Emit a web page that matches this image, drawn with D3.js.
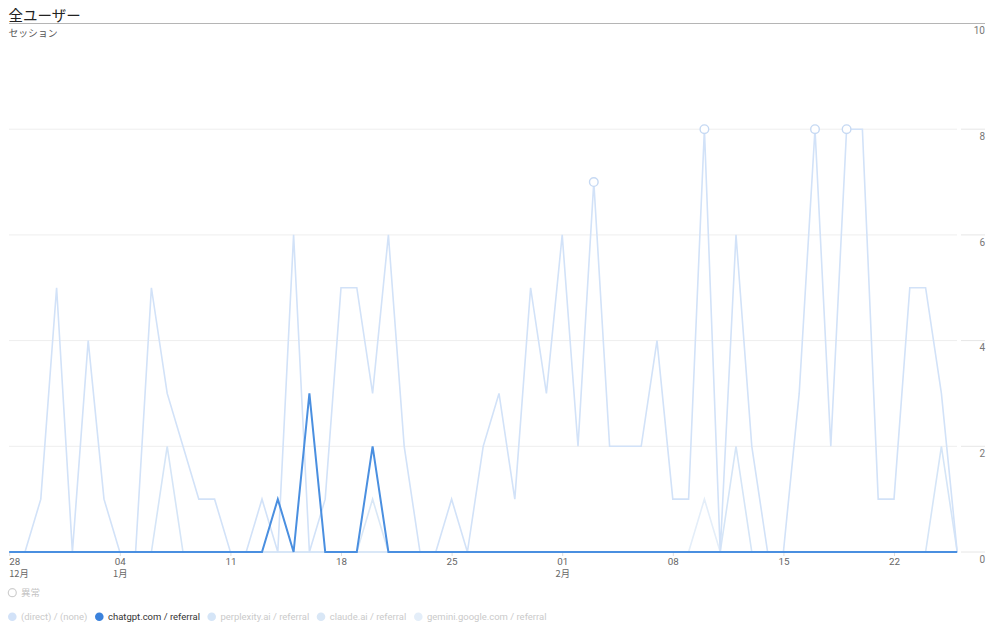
<!DOCTYPE html>
<html>
<head>
<meta charset="utf-8">
<script src="https://cdn.jsdelivr.net/npm/d3@7"></script>
<style>
  html, body { margin: 0; padding: 0; background: #fff; }
  svg { display: block; font-family: Roboto, "Noto Sans CJK JP", sans-serif; }
</style>
</head>
<body>
<svg id="chart" width="1000" height="632"></svg>
<script>
// ---------- data ----------
const startDate = new Date(2024, 11, 28);
const seriesNames = ["(direct) / (none)", "chatgpt.com / referral", "perplexity.ai / referral", "claude.ai / referral", "gemini.google.com / referral"];
const directValues = [0,0,1,5,0,4,1,0,0,5,3,2,1,1,0,0,1,0,6,0,1,5,5,3,6,2,0,0,1,0,2,3,1,5,3,6,2,7,2,2,2,4,1,1,8,0,6,2,0,0,3,8,2,8,8,1,1,5,5,3,0];
const chatgptValues = [0,0,0,0,0,0,0,0,0,0,0,0,0,0,0,0,0,1,0,3,0,0,0,2,0,0,0,0,0,0,0,0,0,0,0,0,0,0,0,0,0,0,0,0,0,0,0,0,0,0,0,0,0,0,0,0,0,0,0,0,0];
const perplexityValues = [0,0,0,0,0,0,0,0,0,0,2,0,0,0,0,0,0,0,0,0,0,0,0,0,0,0,0,0,0,0,0,0,0,0,0,0,0,0,0,0,0,0,0,0,0,0,2,0,0,0,0,0,0,0,0,0,0,0,0,2,0];
const claudeValues = [0,0,0,0,0,0,0,0,0,0,0,0,0,0,0,0,0,0,0,0,0,0,0,1,0,0,0,0,0,0,0,0,0,0,0,0,0,0,0,0,0,0,0,0,0,0,0,0,0,0,0,0,0,0,0,0,0,0,0,0,0];
const geminiValues = [0,0,0,0,0,0,0,0,0,0,0,0,0,0,0,0,0,0,0,0,0,0,0,0,0,0,0,0,0,0,0,0,0,0,0,0,0,0,0,0,0,0,0,0,1,0,0,0,0,0,0,0,0,0,0,0,0,0,0,0,0];
const anomalyIndices = [37, 44, 51, 53];
const xTickIndices = [0, 7, 14, 21, 28, 35, 42, 49, 56];
const xTickLabels = ["28", "04", "11", "18", "25", "01", "08", "15", "22"];
const monthLabels = ["12月", "1月", "", "", "", "2月", "", "", ""];
const yTicks = [0, 2, 4, 6, 8, 10];
const titleText = "全ユーザー";
const metricText = "セッション";
const anomalyLabel = "異常";

// ---------- styles / layout ----------
const colors = ["#d2e2f8", "#4a8fe0", "#d5e5f7", "#d9e7f6", "#e4eef9"];
const legendDotX = [12.3, 99.3, 211.7, 321, 418.3];

const svg = d3.select("#chart");
const dates = directValues.map((_, i) => d3.timeDay.offset(startDate, i));
const x = d3.scaleTime().domain([dates[0], dates[dates.length - 1]]).range([9.2, 957.2]);
const y = d3.scaleLinear().domain([0, 10]).range([552, 23.5]);

// title
svg.append("text").attr("x", 8.5).attr("y", 21).attr("font-size", 14.5)
  .attr("fill", "#222").attr("font-family", "'Noto Sans CJK JP', sans-serif").text(titleText);
svg.append("text").attr("x", 8.5).attr("y", 37).attr("font-size", 9.8)
  .attr("fill", "#555").attr("font-family", "'Noto Sans CJK JP', sans-serif").text(metricText);

// gridlines
const grid = svg.append("g");
yTicks.forEach(v => {
  if (v === 10) return;
  grid.append("line").attr("x1", 9).attr("x2", 957).attr("y1", y(v)).attr("y2", y(v))
    .attr("stroke", v === 0 ? "#dcdcdc" : "#eeeeee").attr("stroke-width", 1);
  grid.append("line").attr("x1", 961).attr("x2", 985).attr("y1", y(v)).attr("y2", y(v))
    .attr("stroke", "#e6e6e6").attr("stroke-width", 1);
});
svg.append("line").attr("x1", 9).attr("x2", 985).attr("y1", y(10)).attr("y2", y(10))
  .attr("stroke", "#b5b5b5").attr("stroke-width", 1);

// y labels (right)
const yAxis = d3.axisRight(y).tickValues(yTicks).tickSize(0).tickFormat(d3.format("d"));
const yg = svg.append("g").attr("transform", "translate(985,0)").call(yAxis);
yg.select(".domain").remove();
yg.selectAll("text").attr("x", 0).attr("dy", null)
  .attr("y", 10.3).attr("text-anchor", "end").attr("font-size", 10).attr("fill", "#777")
  .attr("font-family", "Roboto, sans-serif");

// x axis
const xAxis = d3.axisBottom(x).tickValues(xTickIndices.map(i => dates[i])).tickSize(4)
  .tickFormat((d, i) => xTickLabels[i]);
const xg = svg.append("g").attr("transform", `translate(0,${y(0)})`).call(xAxis);
xg.select(".domain").remove();
xg.selectAll(".tick line").attr("stroke", "#dedede");
xg.selectAll(".tick text").attr("y", 12.5).attr("dy", null).attr("font-size", 9.8)
  .attr("fill", "#666").attr("font-family", "Roboto, sans-serif")
  .attr("text-anchor", (d, i) => i === 0 ? "start" : "middle")
  .attr("dx", (d, i) => i === 0 ? -0.5 : 0);
xg.selectAll(".tick").each(function(d, i) {
  if (!monthLabels[i]) return;
  d3.select(this).append("text").attr("y", 24.8).attr("font-size", 9.3).attr("fill", "#666")
    .attr("font-family", "'Noto Sans CJK JP', sans-serif")
    .attr("text-anchor", i === 0 ? "start" : "middle").attr("dx", i === 0 ? -0.5 : 0)
    .text(monthLabels[i]);
});

// lines
const allSeries = [directValues, chatgptValues, perplexityValues, claudeValues, geminiValues];
const line = d3.line().x((d, i) => x(dates[i])).y(d => y(d));
const drawOrder = [4, 3, 2, 0, 1];
drawOrder.forEach(k => {
  svg.append("path").datum(allSeries[k]).attr("d", line).attr("fill", "none")
    .attr("stroke", colors[k]).attr("stroke-width", k === 1 ? 2 : 1.6)
    .attr("stroke-linejoin", "miter");
});

// anomalies
svg.append("g").selectAll("circle").data(anomalyIndices).join("circle")
  .attr("cx", i => x(dates[i])).attr("cy", i => y(directValues[i])).attr("r", 4.3)
  .attr("fill", "#fff").attr("stroke", "#c6d9f3").attr("stroke-width", 1.4);

// anomaly legend
svg.append("circle").attr("cx", 12.3).attr("cy", 592.7).attr("r", 4).attr("fill", "#fff")
  .attr("stroke", "#cfcfcf").attr("stroke-width", 1.2);
svg.append("text").attr("x", 21).attr("y", 596.3).attr("font-size", 9.5).attr("fill", "#c4c4c4")
  .attr("font-family", "'Noto Sans CJK JP', sans-serif").text(anomalyLabel);

// series legend (font sized so the chatgpt label spans ~92px like the reference)
const lg = svg.append("g");
const probe = lg.append("text").attr("font-size", 10).text(seriesNames[1]);
const fs = 10 * 92 / probe.node().getComputedTextLength();
probe.remove();
seriesNames.forEach((name, k) => {
  lg.append("circle").attr("cx", legendDotX[k]).attr("cy", 616.7).attr("r", 4.3)
    .attr("fill", k === 1 ? "#3b82dc" : colors[k]);
  lg.append("text").attr("x", legendDotX[k] + 8.7).attr("y", 620.3).attr("font-size", fs)
    .attr("fill", k === 1 ? "#333" : "#cacaca").text(name);
});
</script>
</body>
</html>
